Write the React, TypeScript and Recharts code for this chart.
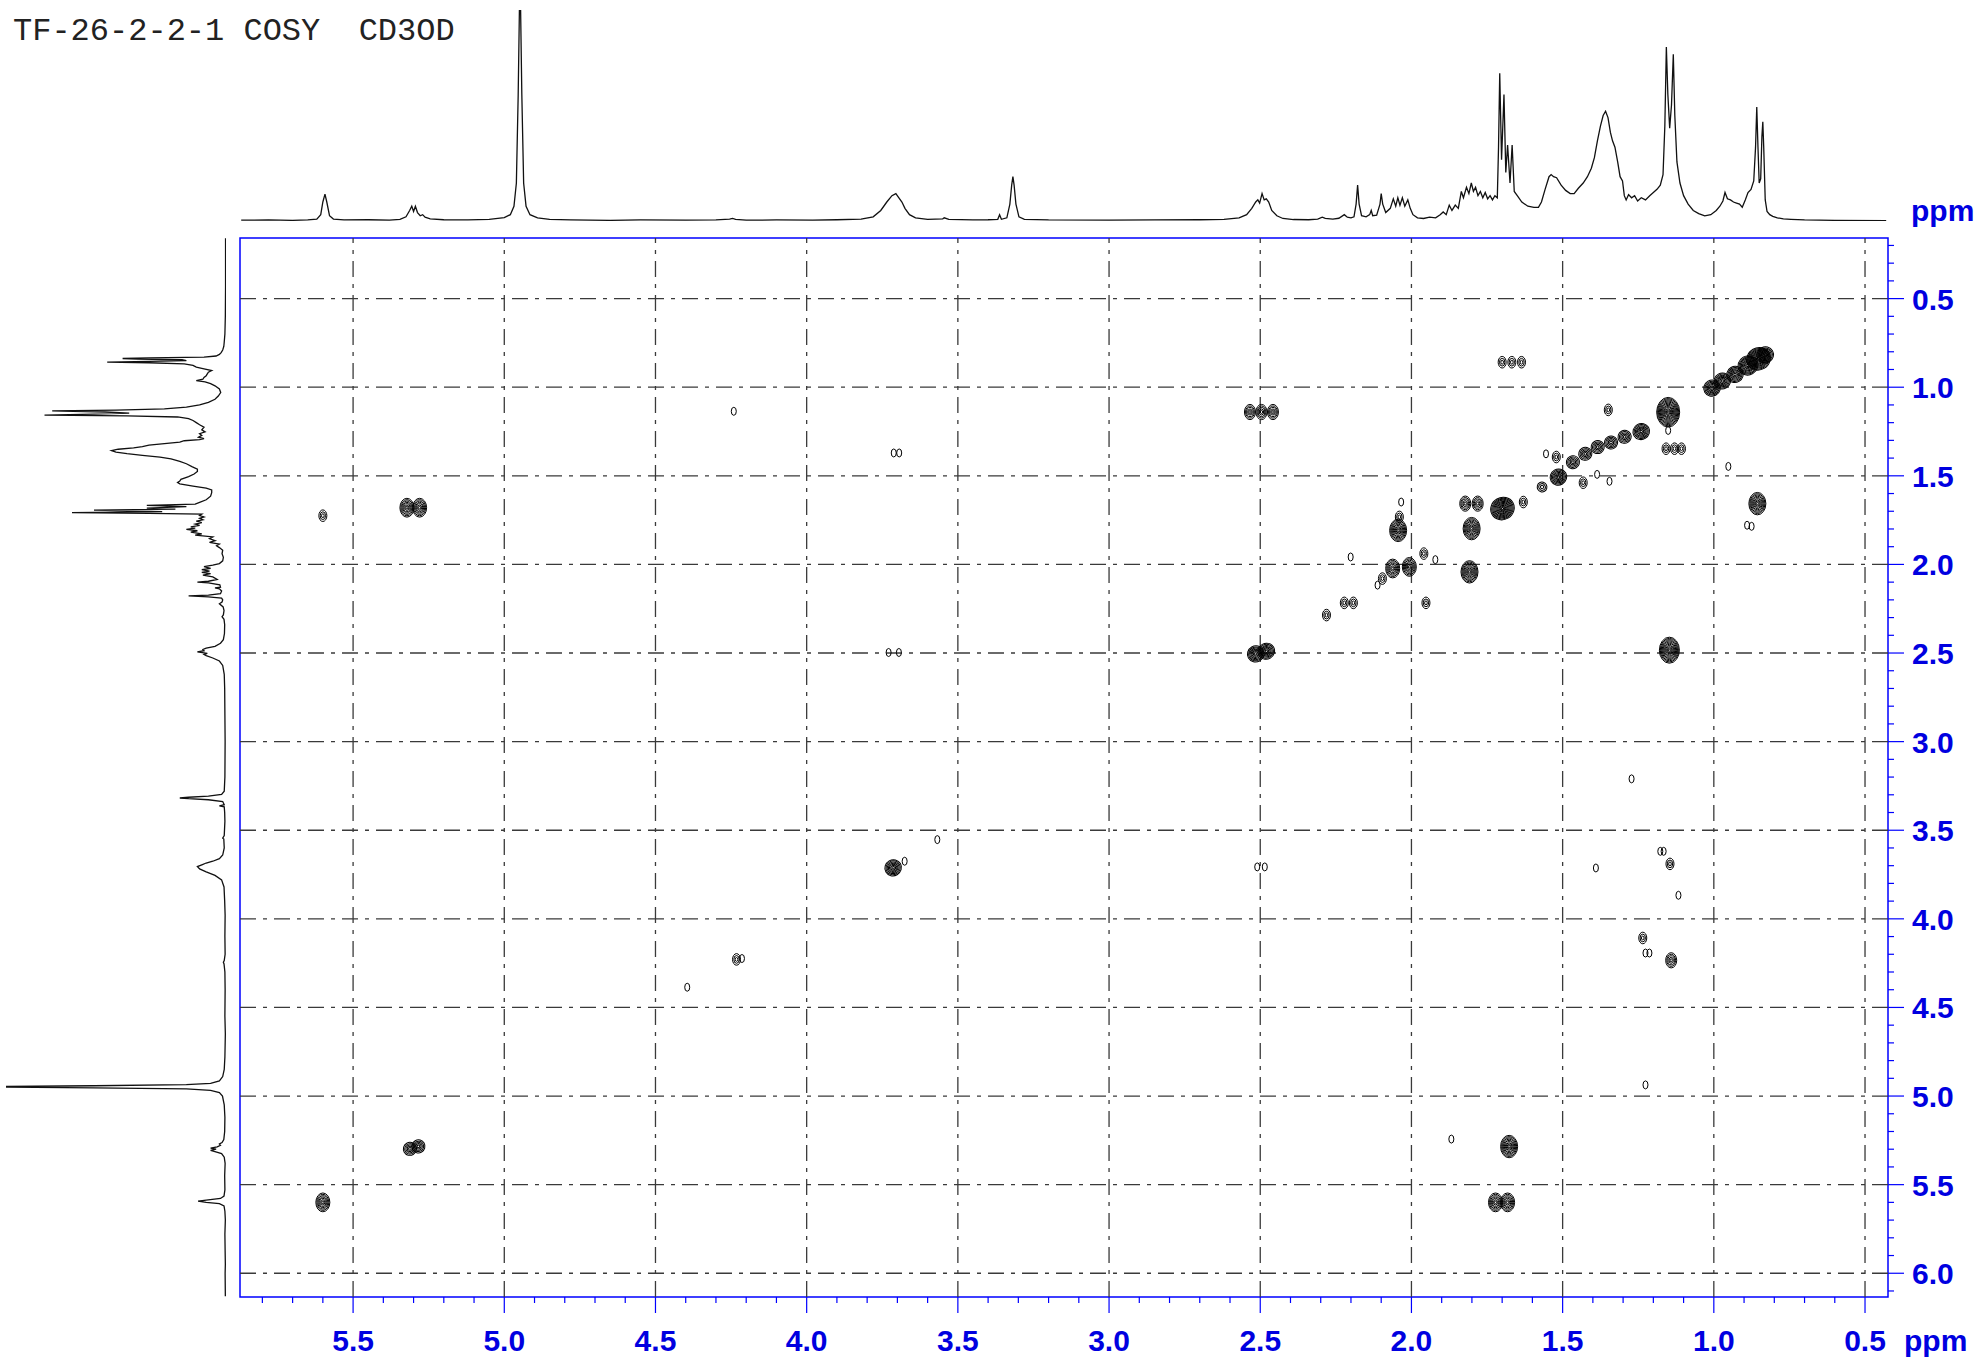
import React from "react";
import { ScatterChart, Scatter, XAxis, YAxis, ReferenceLine, ReferenceArea } from "recharts";

// axis ranges (ppm) as seen on the plot box edges
const F2_RANGE: [number, number] = [0.424, 5.874];
const F1_RANGE: [number, number] = [0.158, 6.134];

const F2_MAJOR = [5.5, 5.0, 4.5, 4.0, 3.5, 3.0, 2.5, 2.0, 1.5, 1.0, 0.5];
const F1_MAJOR = [0.5, 1.0, 1.5, 2.0, 2.5, 3.0, 3.5, 4.0, 4.5, 5.0, 5.5, 6.0];

// minor ticks every 0.1 ppm
const F2_TICKS = Array.from({ length: 54 }, (_, i) => +(5.8 - i * 0.1).toFixed(1));
const F1_TICKS = Array.from({ length: 60 }, (_, i) => +(0.2 + i * 0.1).toFixed(1));

// 1H projection, [ppm, intensity]
const SPECTRUM_1H: [number, number][] = [
  [6.13, 0.3], [6.0, 0.4], [5.95, 0.3],
  [5.87, 0.4], [5.78, 0.5], [5.7, 0.3], [5.65, 0.5], [5.62, 0.9], [5.607, 3], [5.6, 9], [5.593, 12.7],
  [5.587, 9], [5.578, 2.5], [5.565, 0.9], [5.53, 0.5], [5.45, 0.6], [5.38, 0.4], [5.345, 0.8], [5.325, 2],
  [5.313, 5], [5.306, 7], [5.3, 4.5], [5.294, 7], [5.287, 4], [5.278, 2.5], [5.27, 3], [5.262, 1.8],
  [5.245, 1], [5.2, 0.6], [5.12, 0.5], [5.05, 0.8], [5.0, 1.6], [4.98, 3], [4.968, 7], [4.96, 18],
  [4.954, 60], [4.95, 100], [4.946, 100], [4.942, 60], [4.936, 18], [4.928, 7], [4.915, 3], [4.89, 1.5],
  [4.85, 0.8], [4.78, 0.5], [4.65, 0.3], [4.55, 0.5], [4.4, 0.4], [4.3, 0.5], [4.255, 0.9], [4.245, 1.2],
  [4.235, 0.8], [4.2, 0.4], [4.1, 0.5], [3.98, 0.4], [3.9, 0.6], [3.82, 0.9], [3.78, 2], [3.755, 5],
  [3.735, 9], [3.718, 12], [3.705, 13], [3.695, 11], [3.685, 9], [3.675, 6], [3.66, 3], [3.64, 1.5],
  [3.6, 0.8], [3.55, 1.0], [3.545, 1.5], [3.53, 0.8], [3.45, 0.5], [3.4, 0.6], [3.368, 0.8], [3.362, 3],
  [3.356, 0.8], [3.338, 1.5], [3.328, 8], [3.322, 17], [3.318, 21], [3.314, 17], [3.308, 8], [3.298, 2],
  [3.28, 0.8], [3.2, 0.5], [3.0, 0.4], [2.85, 0.5], [2.7, 0.6], [2.62, 0.8], [2.57, 1.5], [2.545, 3],
  [2.528, 6], [2.515, 9], [2.508, 10], [2.502, 8.5], [2.494, 13], [2.487, 10], [2.48, 10.5], [2.472, 9],
  [2.462, 5], [2.445, 2.5], [2.425, 1.2], [2.39, 0.7], [2.34, 0.6], [2.31, 0.9], [2.295, 1.8], [2.285, 1.2],
  [2.26, 0.9], [2.24, 1.3], [2.222, 3], [2.212, 1.8], [2.2, 1.5], [2.19, 2], [2.183, 8], [2.178, 17],
  [2.173, 8], [2.165, 2.5], [2.15, 2], [2.138, 3], [2.133, 5], [2.128, 2.5], [2.115, 2.8], [2.104, 8],
  [2.1, 13], [2.095, 8], [2.085, 4], [2.07, 6], [2.06, 10.5], [2.052, 7], [2.045, 11], [2.038, 7.5],
  [2.03, 11], [2.022, 7], [2.012, 10], [2.004, 6], [1.995, 3], [1.98, 1.5], [1.96, 1.2], [1.94, 1.8],
  [1.92, 1.5], [1.905, 3], [1.895, 4.3], [1.885, 3], [1.875, 7.5], [1.866, 5], [1.855, 7.5], [1.845, 6],
  [1.835, 14], [1.828, 11], [1.818, 16], [1.81, 13], [1.802, 18], [1.795, 14], [1.788, 16], [1.78, 12],
  [1.772, 14], [1.764, 11], [1.756, 13.5], [1.748, 10.5], [1.74, 12], [1.732, 10], [1.724, 12], [1.716, 11],
  [1.712, 35], [1.708, 70], [1.702, 29], [1.694, 60], [1.688, 23], [1.682, 36], [1.674, 18], [1.667, 36],
  [1.66, 14], [1.65, 12], [1.635, 9], [1.615, 7], [1.595, 6.5], [1.58, 6.5], [1.57, 9], [1.558, 15],
  [1.545, 21], [1.538, 22], [1.53, 21], [1.52, 20.5], [1.505, 17], [1.49, 14.5], [1.475, 13], [1.462, 13],
  [1.448, 15.5], [1.432, 18], [1.418, 21], [1.405, 25], [1.395, 30], [1.385, 38], [1.375, 45], [1.366, 50],
  [1.358, 52], [1.35, 49], [1.342, 42], [1.335, 38], [1.327, 35], [1.318, 28], [1.31, 21], [1.302, 19],
  [1.296, 12], [1.29, 10], [1.282, 12.5], [1.272, 11], [1.262, 12], [1.252, 9.5], [1.24, 11], [1.226, 10],
  [1.212, 12], [1.2, 13.5], [1.188, 15], [1.177, 17], [1.168, 22], [1.162, 45], [1.157, 82.5], [1.152, 60],
  [1.146, 44], [1.14, 55], [1.134, 79], [1.129, 50], [1.122, 28], [1.112, 18], [1.1, 12], [1.085, 8],
  [1.068, 5], [1.05, 3.5], [1.03, 2.4], [1.01, 3], [0.992, 5], [0.98, 7], [0.97, 9.5], [0.963, 13.5],
  [0.955, 10.5], [0.945, 10], [0.935, 9], [0.925, 8.5], [0.915, 8], [0.906, 6.5], [0.896, 10], [0.887, 13.5],
  [0.877, 15], [0.868, 19], [0.862, 35], [0.858, 54], [0.854, 35], [0.85, 18], [0.845, 20], [0.841, 40],
  [0.838, 47], [0.835, 35], [0.83, 10], [0.824, 4.5], [0.815, 3], [0.805, 2.2], [0.79, 1.5], [0.77, 1],
  [0.745, 0.8], [0.7, 0.5], [0.6, 0.3], [0.43, 0.2], [0.3, 0.2], [0.16, 0.2],
];

// COSY contour peaks: F2 (x), F1 (y), contour level count, on-diagonal flag
const PEAK_F2 = [
  5.6, 5.322, 5.28, 5.6, 5.312, 5.284, 4.241, 4.232, 4.214, 4.395, 3.712, 3.694, 3.729, 3.695, 3.714, 3.676,
  3.568, 2.534, 2.496, 2.458, 2.515, 2.48, 2.51, 2.485, 1.7, 1.668, 1.636, 0.83, 0.852, 0.887, 0.93, 0.972,
  1.006, 1.151, 1.151, 1.158, 1.13, 1.107, 1.349, 1.24, 1.295, 1.34, 1.384, 1.425, 1.466, 1.514, 1.568, 1.555,
  1.521, 1.432, 1.386, 1.345, 1.822, 1.781, 1.699, 1.63, 1.801, 2.044, 2.04, 2.034, 1.808, 2.062, 2.007, 1.959,
  1.921, 2.096, 2.112, 2.222, 2.192, 2.281, 2.201, 1.952, 0.856, 0.89, 0.875, 0.952, 1.147, 1.272, 1.177, 1.166,
  1.145, 1.39, 1.117, 1.235, 1.226, 1.213, 1.141, 1.226, 1.677, 1.722, 1.682, 1.868,
];
const PEAK_F1 = [
  1.725, 1.68, 1.68, 5.6, 5.298, 5.284, 1.136, 4.229, 4.224, 4.386, 1.371, 1.371, 2.497, 2.497, 3.712, 3.675,
  3.553, 1.14, 1.14, 1.14, 2.505, 2.49, 3.707, 3.707, 0.859, 0.859, 0.859, 0.818, 0.84, 0.877, 0.928, 0.965,
  1.005, 1.141, 1.244, 1.347, 1.347, 1.347, 1.128, 1.25, 1.28, 1.312, 1.338, 1.376, 1.423, 1.507, 1.563, 1.376,
  1.394, 1.539, 1.492, 1.531, 1.657, 1.657, 1.685, 1.648, 1.798, 1.808, 1.732, 1.648, 2.042, 2.023, 2.014, 1.939,
  1.973, 2.08, 2.117, 2.217, 2.217, 2.286, 1.958, 2.217, 1.657, 1.779, 1.785, 1.447, 2.484, 3.21, 3.619, 3.619,
  3.69, 3.713, 3.867, 4.108, 4.193, 4.193, 4.234, 4.937, 5.285, 5.6, 5.6, 5.243,
];
const PEAK_LEVEL = [
  2, 4, 4, 4, 3, 3, 1, 2, 1, 1, 1, 1, 1, 1, 4, 1,
  1, 3, 3, 3, 4, 4, 1, 1, 2, 2, 2, 4, 6, 5, 4, 4,
  4, 7, 1, 2, 2, 2, 2, 4, 3, 3, 3, 3, 3, 4, 2, 1,
  2, 2, 1, 1, 3, 3, 6, 2, 5, 5, 2, 1, 5, 4, 4, 2,
  1, 2, 1, 2, 2, 2, 1, 2, 5, 1, 1, 1, 6, 1, 1, 1,
  2, 1, 1, 2, 1, 1, 3, 1, 5, 4, 4, 1,
];
const PEAK_DIAG = [
  0, 0, 0, 0, 1, 1, 0, 0, 0, 0, 0, 0, 0, 0, 1, 0,
  0, 0, 0, 0, 1, 1, 0, 0, 0, 0, 0, 1, 1, 1, 1, 1,
  1, 0, 0, 0, 0, 0, 0, 1, 1, 1, 1, 1, 1, 1, 1, 0,
  0, 0, 0, 0, 0, 0, 1, 0, 0, 0, 0, 0, 0, 0, 0, 0,
  0, 0, 0, 0, 0, 0, 0, 0, 0, 0, 0, 0, 0, 0, 0, 0,
  0, 0, 0, 0, 0, 0, 0, 0, 0, 0, 0, 0,
];

const peaks = PEAK_F2.map((f2, i) => ({ f2, f1: PEAK_F1[i], lv: PEAK_LEVEL[i], diag: PEAK_DIAG[i] }));
const spec = SPECTRUM_1H.map(([ppm, int]) => ({ ppm, int }));
const specTop = spec.filter((p) => p.ppm >= F2_RANGE[0] && p.ppm <= F2_RANGE[1]);

const BLUE = "#0000ff";
const LABEL_BLUE = "#0000e0";
const GRID = "#3a3a3a";
const DASH = "16 7 4 7";
const labelFont = { fontFamily: "'Liberation Sans', Arial, sans-serif", fontWeight: 700, fontSize: 30 };

const isMajor = (v: number) => Math.abs(v * 2 - Math.round(v * 2)) < 1e-6;

const F2Tick = (props: any) => {
  const { x, y, payload } = props;
  const v = payload.value as number;
  const major = isMajor(v);
  return (
    <g>
      <line x1={x} x2={x} y1={y} y2={y + (major ? 16 : 6)} stroke={BLUE} strokeWidth={1.2} />
      {major && (
        <text x={x} y={y + 54} textAnchor="middle" fill={LABEL_BLUE} {...labelFont}>
          {v.toFixed(1)}
        </text>
      )}
    </g>
  );
};

const F1Tick = (props: any) => {
  const { x, y, payload } = props;
  const v = payload.value as number;
  const major = isMajor(v);
  return (
    <g>
      <line x1={x} x2={x + (major ? 16 : 6)} y1={y} y2={y} stroke={BLUE} strokeWidth={1.2} />
      {major && (
        <text x={x + 24} y={y + 11} textAnchor="start" fill={LABEL_BLUE} {...labelFont}>
          {v.toFixed(1)}
        </text>
      )}
    </g>
  );
};

// concentric contour rings for one cross peak
const Contour = (props: any) => {
  const { cx, cy, payload } = props;
  if (cx == null || cy == null) return <g />;
  const lv = payload.lv as number;
  let rx = 1 + lv * 1.5;
  let ry = 2.2 + lv * 1.8;
  if (payload.diag) {
    rx *= 1.2;
    ry *= 0.85;
  }
  const n = lv === 1 ? 1 : lv * 2 - 1;
  const rings = [];
  for (let k = n; k >= 1; k--) {
    const t = k / n;
    rings.push(
      <ellipse key={k} cx={cx} cy={cy} rx={Math.max(rx * t, 0.8)} ry={Math.max(ry * t, 1)} fill="none" stroke="#000" strokeWidth={1} />
    );
  }
  return <g transform={payload.diag ? `rotate(-30 ${cx} ${cy})` : undefined}>{rings}</g>;
};

const NoDot = () => <g />;

export default function App() {
  return (
    <div style={{ position: "absolute", left: 0, top: 0, width: 1984, height: 1362, background: "#fff" }}>
      {/* 2D COSY map */}
      <div style={{ position: "absolute", left: 0, top: 0 }}>
        <ScatterChart width={1984} height={1362} margin={{ top: 238, right: 0, bottom: 0, left: 240 }}>
          <XAxis
            type="number"
            dataKey="f2"
            domain={F2_RANGE}
            reversed
            allowDataOverflow
            ticks={F2_TICKS}
            interval={0}
            height={65}
            tickSize={0}
            tickMargin={0}
            axisLine={false}
            tickLine={false}
            tick={<F2Tick />}
          />
          <YAxis
            type="number"
            dataKey="f1"
            domain={F1_RANGE}
            reversed
            allowDataOverflow
            orientation="right"
            ticks={F1_TICKS}
            interval={0}
            width={96}
            tickSize={0}
            tickMargin={0}
            axisLine={false}
            tickLine={false}
            tick={<F1Tick />}
          />
          {F2_MAJOR.map((v) => (
            <ReferenceLine key={"x" + v} x={v} stroke={GRID} strokeWidth={1.3} strokeDasharray={DASH} />
          ))}
          {F1_MAJOR.map((v) => (
            <ReferenceLine key={"y" + v} y={v} stroke={GRID} strokeWidth={1.3} strokeDasharray={DASH} />
          ))}
          <Scatter data={peaks} shape={<Contour />} isAnimationActive={false} />
          <ReferenceArea
            x1={F2_RANGE[1]}
            x2={F2_RANGE[0]}
            y1={F1_RANGE[0]}
            y2={F1_RANGE[1]}
            fill="none"
            fillOpacity={0}
            stroke={BLUE}
            strokeWidth={1.5}
          />
        </ScatterChart>
      </div>

      {/* F2 projection on top */}
      <div style={{ position: "absolute", left: 0, top: 0 }}>
        <ScatterChart width={1984} height={240} margin={{ top: 10, right: 96, bottom: 19, left: 240 }}>
          <XAxis type="number" dataKey="ppm" domain={F2_RANGE} reversed allowDataOverflow hide />
          <YAxis type="number" dataKey="int" domain={[0, 100]} allowDataOverflow hide />
          <Scatter
            data={specTop}
            shape={<NoDot />}
            line={{ stroke: "#111", strokeWidth: 1.3 }}
            lineType="joint"
            isAnimationActive={false}
          />
        </ScatterChart>
      </div>

      {/* F1 projection on the left */}
      <div style={{ position: "absolute", left: 0, top: 0 }}>
        <ScatterChart width={250} height={1362} margin={{ top: 238, right: 24, bottom: 65, left: 6 }}>
          <XAxis type="number" dataKey="int" domain={[0, 100]} reversed allowDataOverflow hide />
          <YAxis type="number" dataKey="ppm" domain={F1_RANGE} reversed allowDataOverflow hide />
          <Scatter
            data={spec}
            shape={<NoDot />}
            line={{ stroke: "#111", strokeWidth: 1.3 }}
            lineType="joint"
            isAnimationActive={false}
          />
        </ScatterChart>
      </div>

      <svg width={1984} height={1362} style={{ position: "absolute", left: 0, top: 0, pointerEvents: "none" }}>
        <text
          x={13}
          y={40}
          fill="#222"
          fontFamily="'Liberation Mono', 'DejaVu Sans Mono', monospace"
          fontSize={32}
          style={{ whiteSpace: "pre" }}
        >
          TF-26-2-2-1 COSY  CD3OD
        </text>
        <text x={1911} y={221} fill={LABEL_BLUE} {...labelFont}>
          ppm
        </text>
        <text x={1904} y={1351} fill={LABEL_BLUE} {...labelFont}>
          ppm
        </text>
      </svg>
    </div>
  );
}
